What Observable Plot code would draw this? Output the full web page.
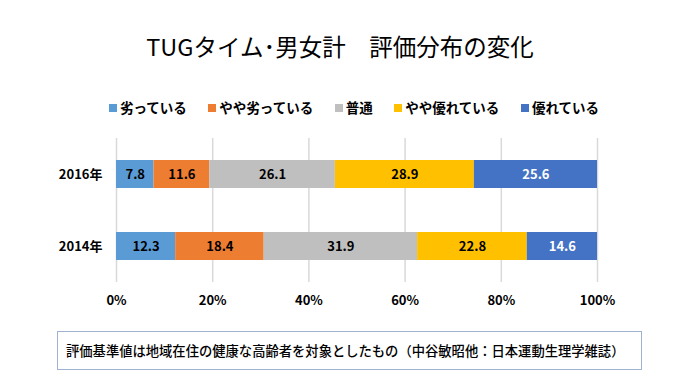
<!DOCTYPE html>
<html><head><meta charset="utf-8">
<script src="https://cdn.jsdelivr.net/npm/d3@7"></script>
<script src="https://cdn.jsdelivr.net/npm/@observablehq/plot@0.6"></script>
<style>
body{margin:0;width:680px;height:383px;position:relative;background:#fff;font-family:"Noto Sans CJK JP",sans-serif;overflow:hidden}
#title{position:absolute;left:0;width:680px;top:30px;text-align:center;font-size:23.5px;line-height:32px;color:#000}
#legend{position:absolute;left:109px;width:490px;top:98px;display:flex;justify-content:space-between;font-size:13.5px;font-weight:bold;line-height:18px;color:#000}
#legend span.sw{display:inline-block;width:8px;height:8px;margin-right:3px;vertical-align:1px}
#chart{position:absolute;left:0;top:130px}
#caption{position:absolute;left:57px;top:331px;font-size:13.3px;font-weight:500;line-height:37px;padding-left:8px;box-sizing:border-box;width:585px;height:39px;border:1px solid #9fb2d1;color:#000;white-space:nowrap}
</style></head>
<body>
<div id="title">TUGタイム･男女計　評価分布の変化</div>
<div id="legend"></div>
<div id="chart"></div>
<div id="caption">評価基準値は地域在住の健康な高齢者を対象としたもの（中谷敏昭他：日本運動生理学雑誌）</div>
<script>
const years = ["2016年", "2014年"];
const categories = ["劣っている", "やや劣っている", "普通", "やや優れている", "優れている"];
const values2016 = [7.8, 11.6, 26.1, 28.9, 25.6];
const values2014 = [12.3, 18.4, 31.9, 22.8, 14.6];
const colors = ["#5B9BD5", "#ED7D31", "#BFBFBF", "#FFC000", "#4472C4"];
const labelColors = ["#000", "#000", "#000", "#000", "#fff"];
const xTicks = [0, 20, 40, 60, 80, 100];

const data = [];
[values2016, values2014].forEach((vals, i) => {
  vals.forEach((v, j) => data.push({year: years[i], cat: categories[j], value: v}));
});

const legend = document.getElementById("legend");
categories.forEach((c, i) => {
  const d = document.createElement("div");
  d.innerHTML = `<span class="sw" style="background:${colors[i]}"></span>${c}`;
  legend.appendChild(d);
});

const chart = Plot.plot({
  width: 680,
  height: 185,
  marginLeft: 116,
  marginRight: 83,
  marginTop: 8,
  marginBottom: 33,
  style: {fontFamily: "'Noto Sans CJK JP', sans-serif", fontSize: "13px", fontWeight: "bold", color: "#000", background: "transparent"},
  x: {domain: [0, 100], ticks: xTicks, tickFormat: d => d + "%", label: null, tickSize: 0, tickPadding: 13},
  y: {domain: years, label: null, tickSize: 0, tickPadding: 14, paddingInner: 0.61, paddingOuter: 0.305},
  color: {domain: categories, range: colors},
  marks: [
    Plot.gridX(xTicks, {stroke: "#d9d9d9", strokeOpacity: 1, strokeWidth: 1.5}),
    Plot.barX(data, Plot.stackX({x: "value", y: "year", fill: "cat", order: null})),
    Plot.text(data, Plot.stackX({x: "value", y: "year", z: "cat", order: null,
      text: d => d.value.toFixed(1),
      fill: d => labelColors[categories.indexOf(d.cat)],
      fontSize: 13, fontWeight: "bold"}))
  ]
});
document.getElementById("chart").appendChild(chart);
</script>
</body></html>
